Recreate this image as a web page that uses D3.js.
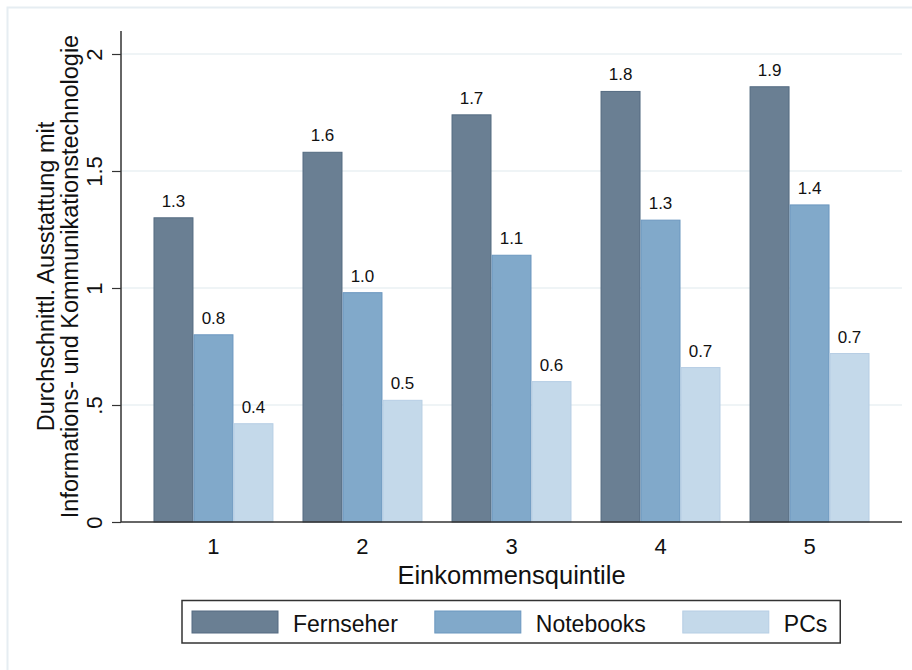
<!DOCTYPE html>
<html lang="de">
<head>
    <meta charset="UTF-8">
    <title>Ausstattung nach Einkommensquintil</title>
    <script src="https://d3js.org/d3.v7.min.js"></script>
    <style>
        body { margin: 0; background: #fff; }
        text { font-family: Arial, "Liberation Sans", sans-serif; fill: #111; }
    </style>
</head>
<body>
<div id="chart"></div>

<script>
    // data
    var quintiles = ["1", "2", "3", "4", "5"];
    var seriesNames = ["Fernseher", "Notebooks", "PCs"];
    var fernseher = [1.30, 1.58, 1.74, 1.84, 1.86];
    var notebooks = [0.80, 0.98, 1.14, 1.29, 1.355];
    var pcs = [0.42, 0.52, 0.60, 0.66, 0.72];
    var yTicks = [0, 0.5, 1, 1.5, 2];
    var yTickLabels = ["0", ".5", "1", "1.5", "2"];
    var yTitle = ["Durchschnittl. Ausstattung mit", "Informations- und Kommunikationstechnologie"];
    var xTitle = "Einkommensquintile";

    var fills = ["#6a7f93", "#81a9ca", "#c4d9ea"];
    var strokes = ["#546b81", "#6b97bf", "#b6cee4"];

    var W = 912, H = 670;
    var plot = {left: 121, right: 902, top: 31, bottom: 522};

    var svg = d3.select("#chart")
        .append("svg")
            .attr("width", W)
            .attr("height", H);

    // outer graph frame (runs off the right and bottom edge)
    svg.append("rect")
        .attr("x", 7.5).attr("y", 7.5)
        .attr("width", W).attr("height", H)
        .attr("fill", "none")
        .attr("stroke", "#e6edf2")
        .attr("stroke-width", 2);

    var x = d3.scaleBand()
        .domain(quintiles)
        .range([plot.left, plot.right])
        .paddingInner(0.195)
        .paddingOuter(0.218);

    var xSeries = d3.scaleBand()
        .domain(seriesNames)
        .range([0, x.bandwidth()]);

    var y = d3.scaleLinear()
        .domain([0, 2])
        .range([plot.bottom, 54]);

    // gridlines
    svg.append("g")
        .selectAll("line")
        .data(yTicks.slice(1))
        .enter()
        .append("line")
            .attr("x1", plot.left).attr("x2", plot.right)
            .attr("y1", function (d) { return y(d); })
            .attr("y2", function (d) { return y(d); })
            .attr("stroke", "#eaf1f3")
            .attr("stroke-width", 1.5);

    // bars
    var rows = quintiles.map(function (q, i) {
        return [fernseher[i], notebooks[i], pcs[i]].map(function (v, s) {
            return {q: q, s: s, name: seriesNames[s], value: v};
        });
    });

    var groups = svg.append("g")
        .selectAll("g")
        .data(rows)
        .enter()
        .append("g")
            .attr("transform", function (d) { return "translate(" + x(d[0].q) + ",0)"; });

    groups.selectAll("rect")
        .data(function (d) { return d; })
        .enter()
        .append("rect")
            .attr("x", function (d) { return xSeries(d.name) + 0.5; })
            .attr("y", function (d) { return y(d.value); })
            .attr("width", xSeries.bandwidth() - 1)
            .attr("height", function (d) { return y(0) - y(d.value); })
            .attr("fill", function (d) { return fills[d.s]; })
            .attr("stroke", function (d) { return strokes[d.s]; })
            .attr("stroke-width", 1);

    groups.selectAll("text")
        .data(function (d) { return d; })
        .enter()
        .append("text")
            .attr("x", function (d) { return xSeries(d.name) + xSeries.bandwidth() / 2; })
            .attr("y", function (d) { return y(d.value) - 11; })
            .attr("text-anchor", "middle")
            .style("font-size", "17px")
            .text(function (d) { return d3.format(".1f")(d.value); });

    // y axis
    var yAxis = svg.append("g")
        .attr("transform", "translate(" + plot.left + ",0)")
        .call(d3.axisLeft(y)
            .tickValues(yTicks)
            .tickSize(9)
            .tickFormat(function (d, i) { return yTickLabels[i]; }));
    yAxis.select(".domain").remove();
    yAxis.selectAll(".tick line").attr("stroke", "#333").attr("stroke-width", 1.2);
    // rotated labels, baseline sits 19px left of the axis
    yAxis.selectAll(".tick text")
        .attr("x", 0).attr("y", -19).attr("dy", 0)
        .attr("transform", "rotate(-90)")
        .attr("text-anchor", "middle")
        .style("font-size", "22px")
        .style("font-family", "Arial, 'Liberation Sans', sans-serif")
        .attr("fill", "#111");
    yAxis.append("line")
        .attr("x1", 0).attr("x2", 0)
        .attr("y1", plot.top).attr("y2", plot.bottom)
        .attr("stroke", "#333").attr("stroke-width", 1.5);

    // x axis
    var xAxis = svg.append("g")
        .attr("transform", "translate(0," + plot.bottom + ")")
        .call(d3.axisBottom(x).tickSize(0).tickPadding(16));
    xAxis.select(".domain").remove();
    xAxis.selectAll(".tick text")
        .style("font-size", "22px")
        .style("font-family", "Arial, 'Liberation Sans', sans-serif")
        .attr("fill", "#111");
    xAxis.append("line")
        .attr("x1", plot.left).attr("x2", plot.right)
        .attr("stroke", "#333").attr("stroke-width", 1.5);

    // axis titles
    svg.append("text")
        .attr("x", (plot.left + plot.right) / 2)
        .attr("y", 584)
        .attr("text-anchor", "middle")
        .style("font-size", "25.5px")
        .text(xTitle);

    var yMid = (plot.top + plot.bottom) / 2;
    svg.selectAll(".ytitle")
        .data(yTitle)
        .enter()
        .append("text")
            .attr("class", "ytitle")
            .attr("transform", function (d, i) { return "translate(" + (54 + i * 24) + "," + yMid + ") rotate(-90)"; })
            .attr("text-anchor", "middle")
            .style("font-size", "23.5px")
            .text(function (d) { return d; });

    // legend
    var legend = svg.append("g");
    var legBox = legend.append("rect")
        .attr("fill", "#fff")
        .attr("stroke", "#333")
        .attr("stroke-width", 1.5);
    var cursor = 192;
    seriesNames.forEach(function (name, i) {
        legend.append("rect")
            .attr("x", cursor).attr("y", 611)
            .attr("width", 86).attr("height", 22)
            .attr("fill", fills[i])
            .attr("stroke", strokes[i]);
        var t = legend.append("text")
            .attr("x", cursor + 101)
            .attr("y", 632)
            .style("font-size", "23px")
            .text(name);
        cursor = cursor + 101 + t.node().getComputedTextLength() + (i < seriesNames.length - 1 ? 37 : 13);
    });
    legBox.attr("x", 182).attr("y", 600.5)
        .attr("width", cursor - 182).attr("height", 42.5);
</script>
</body>
</html>
